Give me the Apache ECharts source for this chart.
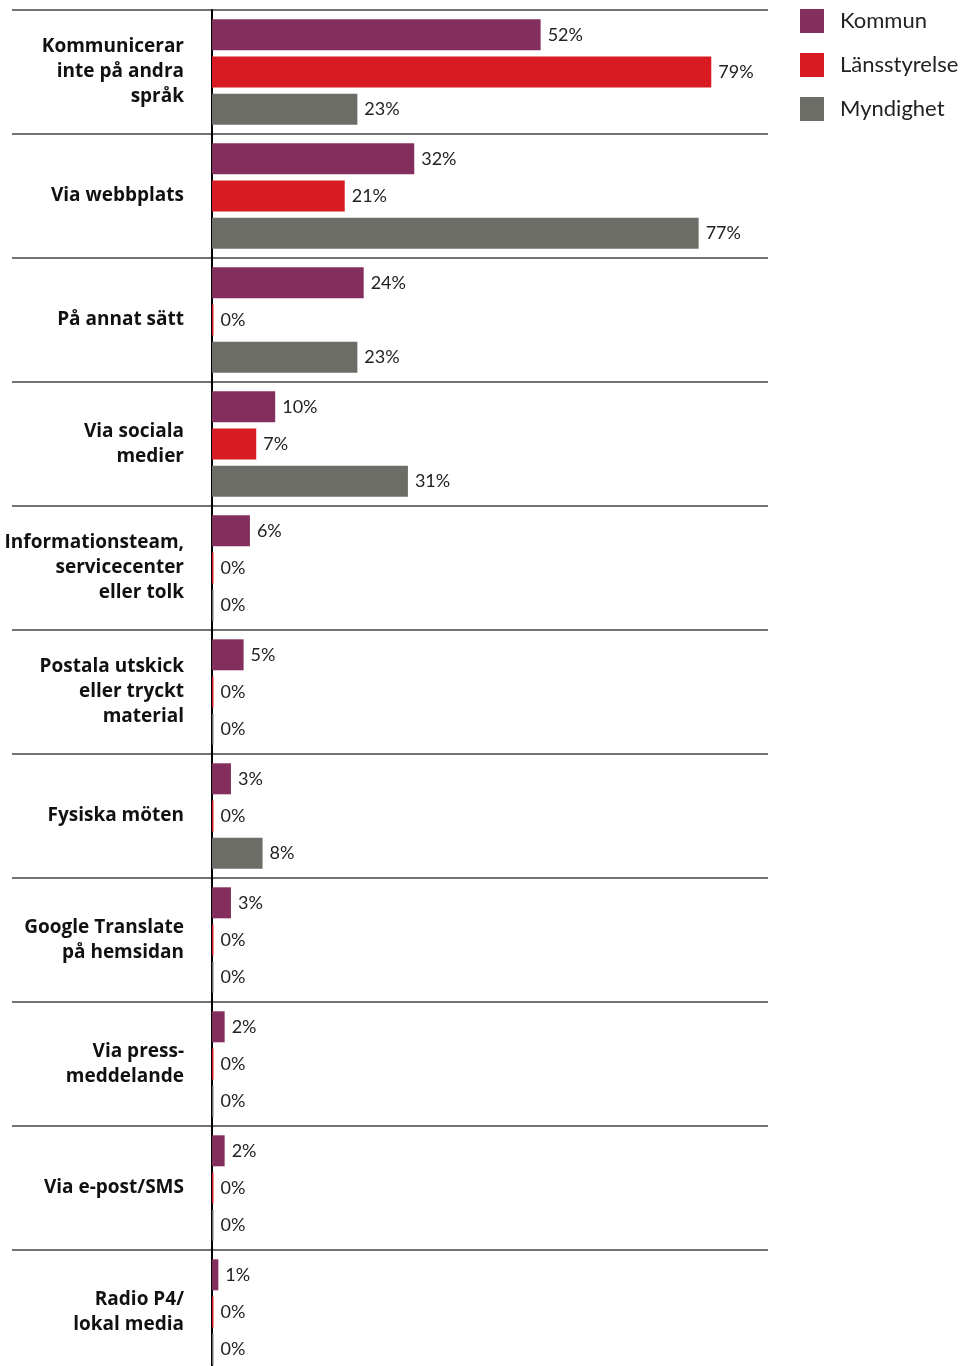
<!DOCTYPE html>
<html>
<head>
<meta charset="utf-8">
<script src="https://cdn.jsdelivr.net/npm/echarts@6/dist/echarts.min.js"></script>
<style>
  html, body { margin: 0; padding: 0; background: #fff; overflow: hidden; }
  #chart { width: 962px; height: 1366px; }
</style>
</head>
<body>
<div id="chart"></div>
<script>
// Hur kommunicerar organisationen på andra språk?
const categories = [
  'Kommunicerar\ninte på andra\nspråk',
  'Via webbplats',
  'På annat sätt',
  'Via sociala\nmedier',
  'Informationsteam,\nservicecenter\neller tolk',
  'Postala utskick\neller tryckt\nmaterial',
  'Fysiska möten',
  'Google Translate\npå hemsidan',
  'Via press-\nmeddelande',
  'Via e-post/SMS',
  'Radio P4/\nlokal media'
];
const kommun       = [52, 32, 24, 10, 6, 5, 3, 3, 2, 2, 1];
const lansstyrelse = [79, 21, 0, 7, 0, 0, 0, 0, 0, 0, 0];
const myndighet    = [23, 77, 23, 31, 0, 0, 8, 0, 0, 0, 0];
const seriesNames  = ['Kommun', 'Länsstyrelse', 'Myndighet'];
const colors       = ['#842E5E', '#D81B23', '#6D6D67'];

const LABEL_FONT = '"Open Sans", "Noto Sans", sans-serif';
const VALUE_FONT = 'Lato, "Noto Sans", sans-serif';

const chart = echarts.init(document.getElementById('chart'), null, { renderer: 'canvas' });

function barSeries(name, data, color) {
  return {
    name: name,
    type: 'bar',
    xAxisIndex: 0,
    yAxisIndex: 0,
    data: data,
    barWidth: 31,
    barGap: '20%',
    barMinHeight: 1.5,
    itemStyle: { color: color },
    label: {
      show: true,
      position: 'right',
      distance: 7,
      formatter: '{c}%',
      fontFamily: VALUE_FONT,
      fontSize: 18,
      color: '#222'
    },
    emphasis: { disabled: true }
  };
}

chart.setOption({
  animation: false,
  color: colors,
  legend: {
    orient: 'vertical',
    left: 800,
    top: 9,
    padding: 0,
    itemWidth: 24,
    itemHeight: 24,
    itemGap: 20,
    icon: 'rect',
    textStyle: { fontFamily: VALUE_FONT, fontSize: 22, color: '#222', padding: [0, 0, 0, 11] },
    data: seriesNames
  },
  grid: [
    // bars
    { left: 212, top: 10, width: 632, height: 1364, outerBoundsMode: 'none', containLabel: false },
    // row separators spanning label column and bars
    { left: 12, top: 10, width: 756, height: 1364, outerBoundsMode: 'none', containLabel: false }
  ],
  xAxis: [
    { gridIndex: 0, type: 'value', min: 0, max: 100, show: false },
    { gridIndex: 1, type: 'value', min: 0, max: 100, show: false }
  ],
  yAxis: [
    {
      gridIndex: 0,
      type: 'category',
      inverse: true,
      data: categories,
      offset: 1,
      axisLine: { show: true, lineStyle: { color: '#000', width: 2 } },
      axisTick: { show: false },
      splitLine: { show: false },
      axisLabel: {
        margin: 27,
        align: 'right',
        fontFamily: LABEL_FONT,
        fontWeight: 'bold',
        fontSize: 19,
        lineHeight: 25,
        color: '#111'
      }
    },
    {
      gridIndex: 1,
      type: 'category',
      inverse: true,
      data: categories,
      axisLine: { show: false },
      axisTick: { show: false },
      axisLabel: { show: false },
      splitLine: {
        show: true,
        showMinLine: true,
        showMaxLine: true,
        lineStyle: { color: '#444', width: 1.5 }
      }
    }
  ],
  series: [
    barSeries(seriesNames[0], kommun, colors[0]),
    barSeries(seriesNames[1], lansstyrelse, colors[1]),
    barSeries(seriesNames[2], myndighet, colors[2])
  ]
});
</script>
</body>
</html>
